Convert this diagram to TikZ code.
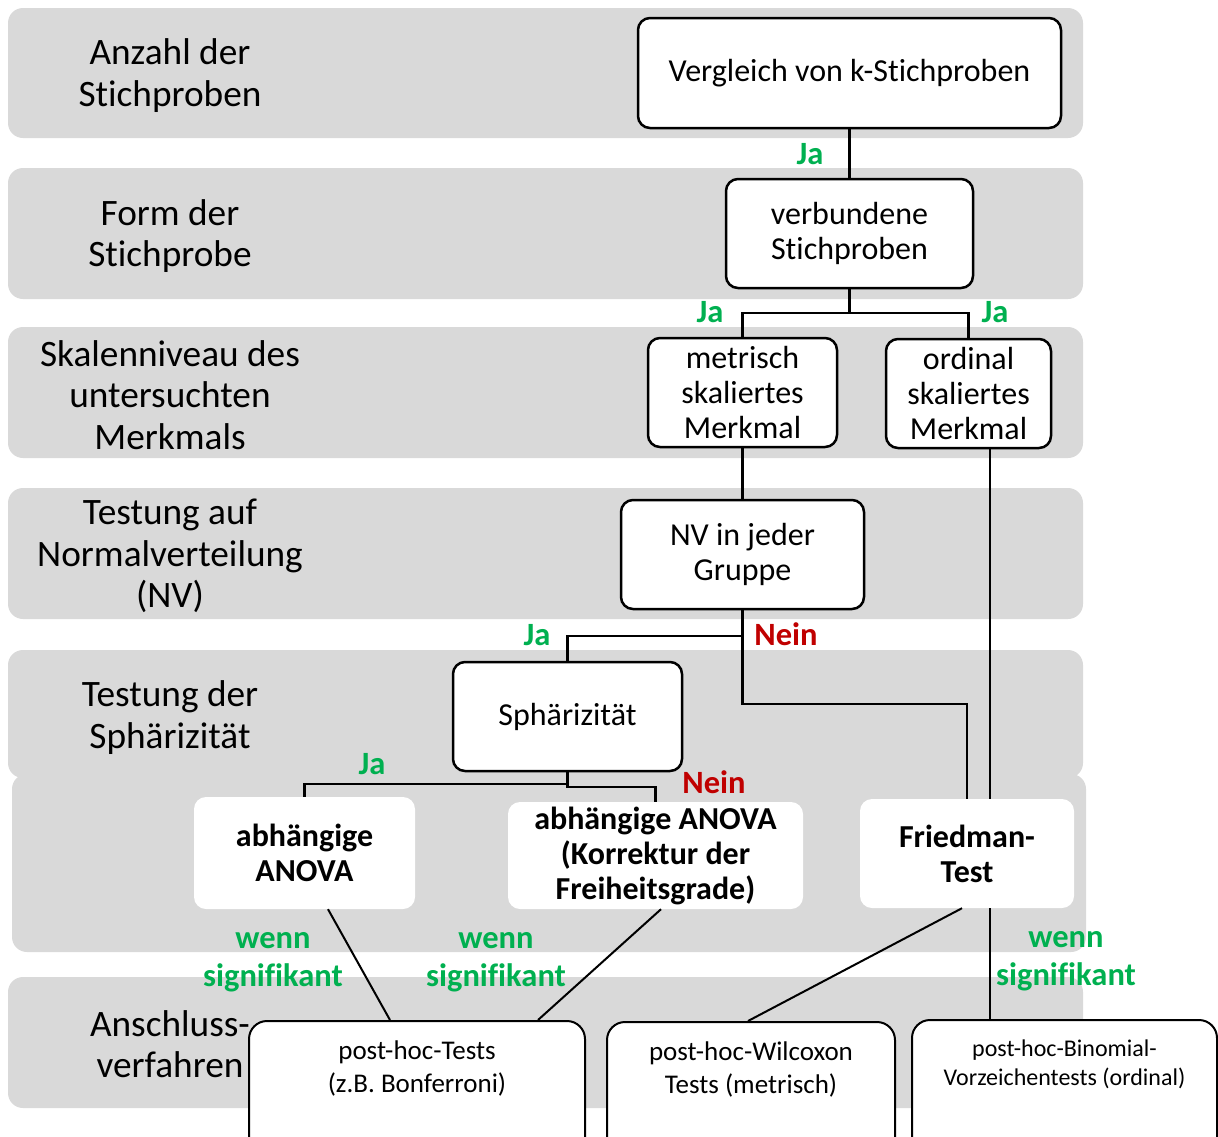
\documentclass[tikz,border=0pt]{standalone}
\usepackage{fontspec}
\setmainfont{Carlito}[Ligatures=NoCommon]
\usetikzlibrary{positioning}
\definecolor{bandgray}{HTML}{D9D9D9}
\definecolor{jagreen}{HTML}{00B050}
\definecolor{neinred}{HTML}{C00000}

\begin{document}
\begin{tikzpicture}
[
    x=1pt, y=-1pt,
    band/.style={fill=bandgray, rounded corners=15pt},
    rowlabel/.style={align=center, font=\fontsize{37.3}{41.5}\selectfont},
    decision/.style={shape=rectangle, rounded corners=12pt, draw, line width=2.5pt, fill=white, align=center, inner sep=0pt, font=\fontsize{32}{35}\selectfont},
    result/.style={shape=rectangle, rounded corners=12pt, fill=white, align=center, inner sep=0pt, font=\bfseries\fontsize{32}{35}\selectfont},
    posthoc/.style={shape=rectangle, rounded corners=18pt, draw, line width=2pt, fill=white, inner sep=0pt, minimum height=140pt, anchor=north},
    posthoctext/.style={align=center, font=\fontsize{27}{33}\selectfont},
    jalabel/.style={text=jagreen, align=center, font=\bfseries\fontsize{32.5}{38.5}\selectfont},
    neinlabel/.style={text=neinred, font=\bfseries\fontsize{32.5}{38}\selectfont},
    link/.style={line width=2.5pt},
]
\useasboundingbox (0,0) rectangle (1218,1136);

% bands
\fill[band] (8,8) rectangle (1083,138);
\fill[band] (8,168) rectangle (1083,299);
\fill[band] (8,327) rectangle (1083,458);
\fill[band] (8,488) rectangle (1083,619);
\fill[band] (8,650) rectangle (1083,778);
\fill[band] (12,774) rectangle (1086,952);
\fill[band] (8,977) rectangle (1083,1108);

\node[rowlabel] (row1) at (170,75.5) {Anzahl der\\Stichproben};
\node[rowlabel] (row2) at (170,236) {Form der\\Stichprobe};
\node[rowlabel] (row3) at (170,395) {Skalenniveau des\\untersuchten\\Merkmals};
\node[rowlabel] (row4) at (170,556) {Testung auf\\Normalverteilung\\(NV)};
\node[rowlabel] (row5) at (170,717.5) {Testung der\\Sphärizität};
\node[rowlabel] (row7) at (170,1044) {Anschluss-\\verfahren};

% decisions
\node[decision, minimum width=423pt, minimum height=110pt] (vergleich) at (849.5,73) {Vergleich von k-Stichproben};
\node[decision, minimum width=247pt, minimum height=109pt] (verbunden) at (849.5,233.5) {verbundene\\Stichproben};
\node[decision, minimum width=189pt, minimum height=109pt] (metrisch) at (742.5,392.5) {metrisch\\skaliertes\\Merkmal};
\node[decision, minimum width=165pt, minimum height=109pt] (ordinal) at (968.5,393.5) {ordinal\\skaliertes\\Merkmal};
\node[decision, minimum width=243pt, minimum height=109pt] (nv) at (742.5,554.5) {NV in jeder\\Gruppe};
\node[decision, minimum width=229pt, minimum height=109pt] (sph) at (567.5,716.5) {Sphärizität};

% results
\node[result, minimum width=221pt, minimum height=112pt] (anova) at (304.5,853) {abhängige\\ANOVA};
\node[result, minimum width=295pt, minimum height=107pt] (anovakorr) at (655.5,855.5) {abhängige ANOVA\\(Korrektur der\\Freiheitsgrade)};
\node[result, minimum width=214pt, minimum height=109pt] (friedman) at (967,853.5) {Friedman-\\Test};

% post-hoc
\node[posthoc, minimum width=336pt] (phtests) at (417,1020) {};
\node[posthoc, minimum width=288pt] (phwilcoxon) at (751,1021) {};
\node[posthoc, minimum width=305pt] (phbinomial) at (1064.5,1019) {};
\node[posthoctext] (phtests text) at ([yshift=-48pt]phtests.north) {post-hoc-Tests\\(z.B. Bonferroni)};
\node[posthoctext] (phwilcoxon text) at ([yshift=-48pt]phwilcoxon.north) {post-hoc-Wilcoxon\\Tests (metrisch)};
\node[posthoctext, font=\fontsize{24}{29}\selectfont] (phbinomial text) at ([yshift=-45pt]phbinomial.north) {post-hoc-Binomial-\\Vorzeichentests (ordinal)};

% connectors
\coordinate (split1) at (849.5,313);
\coordinate (split2) at (742.5,636);
\coordinate (split3) at (567.5,784);
\coordinate (ordline) at (990,0);

\draw[link] (vergleich) -- (verbunden);
\draw[link] (verbunden) -- (split1) -| (metrisch);
\draw[link] (split1) -| (ordinal);
\draw[link] (metrisch) -- (nv);
\draw[link] (nv) -- (split2) -| (sph);
\draw[link] (split2) -- ++(0,68) -| (friedman);
\draw[link] (ordinal.south -| ordline) -- (friedman.north -| ordline);
\draw[link] (sph) -- (split3) -| (anova);
\draw[link] (split3) -- ++(0,3) -| (anovakorr);
\draw[line width=2pt] ([xshift=23.5pt]anova.south) -- ([xshift=-27pt]phtests.north);
\draw[line width=2pt] ([xshift=5.5pt]anovakorr.south) -- ([xshift=121pt]phtests.north);
\draw[line width=2pt] ([xshift=-5pt]friedman.south) -- ([xshift=-3pt]phwilcoxon.north);
\draw[line width=2pt] (friedman.south -| ordline) -- (phbinomial.north -| ordline);

% labels
\node[jalabel] (ja1) at (810,154) {Ja};
\node[jalabel] (ja2) at (710,312) {Ja};
\node[jalabel] (ja3) at (995,312) {Ja};
\node[jalabel] (ja4) at (537,635) {Ja};
\node[jalabel] (ja5) at (372,764) {Ja};
\node[neinlabel] (nein1) at (786,634) {Nein};
\node[neinlabel] (nein2) at (714,782) {Nein};
\node[jalabel] (sig1) at (273,962) {wenn\\signifikant};
\node[jalabel] (sig2) at (496,962) {wenn\\signifikant};
\node[jalabel] (sig3) at (1066,961) {wenn\\signifikant};
\end{tikzpicture}
\end{document}
